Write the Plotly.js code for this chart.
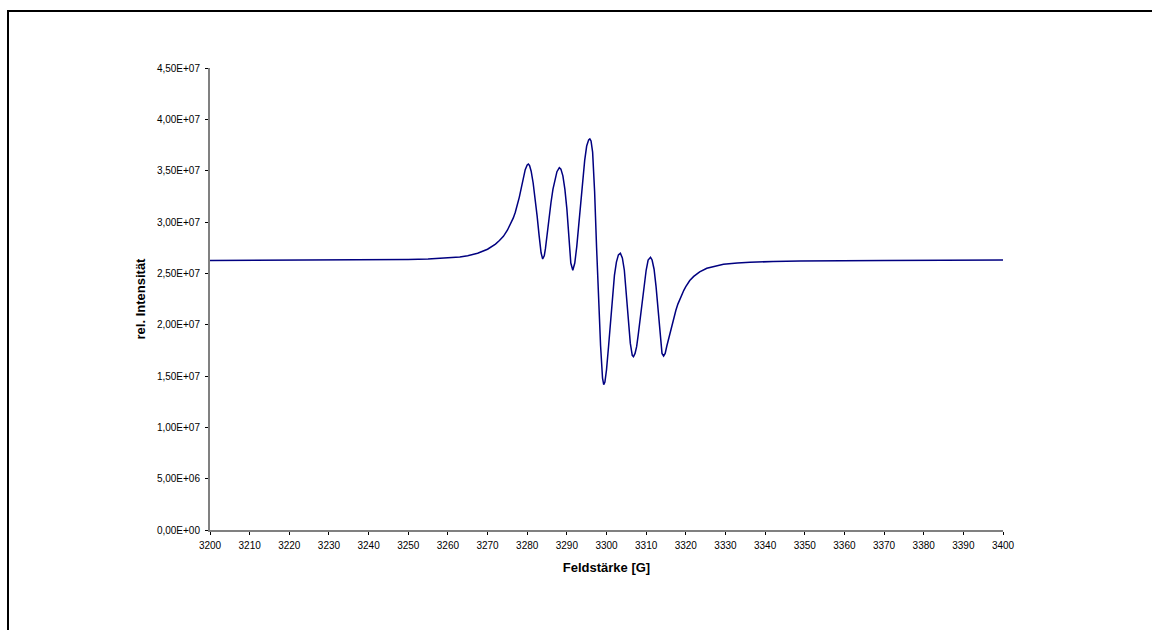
<!DOCTYPE html>
<html>
<head>
<meta charset="utf-8">
<script src="https://cdn.plot.ly/plotly-3.0.1.min.js"></script>
<style>
  html, body { margin: 0; padding: 0; background: #ffffff; width: 1152px; height: 630px; overflow: hidden; }
  #frame { position: absolute; left: 7px; top: 10px; width: 1300px; height: 800px; border: 2px solid #000; box-sizing: border-box; }
  #chart { position: absolute; left: 0; top: 0; width: 1152px; height: 630px; }
</style>
</head>
<body>
<div id="frame"></div>
<div id="chart"></div>
<script>
// Feldstärke [G]
const field = [
  3200.0, 3220.0, 3240.0, 3250.0, 3255.0, 3260.0, 3263.0, 3265.0, 3267.5, 3270.0, 3271.0,
  3272.0, 3273.0, 3274.0, 3275.0, 3276.0, 3276.5,
  3277.0, 3277.5, 3278.0, 3278.5, 3279.0, 3279.5, 3280.0, 3280.3, 3280.6, 3281.0,
  3281.5, 3282.0, 3282.5, 3283.0, 3283.5, 3283.9, 3284.3, 3284.6, 3285.0, 3285.5,
  3286.0, 3286.5, 3287.0, 3287.5, 3288.1, 3288.5, 3289.0, 3289.5, 3290.0, 3290.5,
  3291.0, 3291.5, 3292.0, 3292.5, 3293.0, 3293.5, 3294.0, 3294.5, 3295.0, 3295.5,
  3295.8, 3296.1, 3296.5, 3297.0, 3297.5, 3298.0, 3298.5, 3299.0, 3299.3, 3299.6,
  3300.0, 3300.5, 3301.0, 3301.5, 3302.0, 3302.5, 3303.0, 3303.5, 3304.0, 3304.5,
  3305.0, 3305.5, 3306.0, 3306.5, 3306.8, 3307.2, 3307.6, 3308.0, 3308.5, 3309.0,
  3309.5, 3310.0, 3310.5, 3311.1, 3311.5, 3312.0, 3312.5, 3313.0, 3313.5, 3314.0,
  3314.4, 3314.8, 3315.2, 3315.6, 3316.0, 3316.5, 3317.0, 3317.5, 3318.0, 3318.5,
  3319.0, 3319.5, 3320.0, 3320.5, 3321.0, 3322.0, 3323.5, 3325.3, 3327.5, 3329.5,
  3333.0, 3336.2, 3342.0, 3348.8, 3370.0, 3400.0
];
// rel. Intensität
const intensity = [
  2.625e7, 2.627e7, 2.630e7, 2.635e7, 2.640e7, 2.648e7, 2.660e7, 2.672e7, 2.695e7, 2.735e7, 2.760e7,
  2.785e7, 2.820e7, 2.860e7, 2.920e7, 2.995e7, 3.040e7,
  3.095e7, 3.160e7, 3.240e7, 3.330e7, 3.430e7, 3.510e7, 3.555e7, 3.565e7, 3.550e7, 3.495e7,
  3.380e7, 3.240e7, 3.060e7, 2.870e7, 2.700e7, 2.640e7, 2.670e7, 2.740e7, 2.880e7, 3.040e7,
  3.190e7, 3.320e7, 3.420e7, 3.490e7, 3.530e7, 3.515e7, 3.450e7, 3.320e7, 3.130e7, 2.830e7,
  2.600e7, 2.530e7, 2.600e7, 2.760e7, 2.990e7, 3.210e7, 3.420e7, 3.600e7, 3.740e7, 3.800e7,
  3.810e7, 3.790e7, 3.680e7, 3.300e7, 2.750e7, 2.220e7, 1.800e7, 1.480e7, 1.415e7, 1.440e7,
  1.560e7, 1.780e7, 2.030e7, 2.280e7, 2.480e7, 2.610e7, 2.680e7, 2.695e7, 2.650e7, 2.530e7,
  2.320e7, 2.050e7, 1.820e7, 1.700e7, 1.688e7, 1.720e7, 1.786e7, 1.900e7, 2.060e7, 2.220e7,
  2.380e7, 2.530e7, 2.630e7, 2.656e7, 2.630e7, 2.540e7, 2.370e7, 2.130e7, 1.870e7, 1.720e7,
  1.695e7, 1.720e7, 1.790e7, 1.851e7, 1.920e7, 2.000e7, 2.070e7, 2.140e7, 2.200e7, 2.250e7,
  2.295e7, 2.335e7, 2.370e7, 2.400e7, 2.430e7, 2.470e7, 2.515e7, 2.549e7, 2.572e7, 2.588e7,
  2.600e7, 2.608e7, 2.615e7, 2.620e7, 2.625e7, 2.630e7
];
const xTickVals = [3200,3210,3220,3230,3240,3250,3260,3270,3280,3290,3300,3310,3320,3330,3340,3350,3360,3370,3380,3390,3400];
const xTickText = xTickVals.map(String);
const yTickVals = [0, 5e6, 1e7, 1.5e7, 2e7, 2.5e7, 3e7, 3.5e7, 4e7, 4.5e7];
const yTickText = ["0,00E+00","5,00E+06","1,00E+07","1,50E+07","2,00E+07","2,50E+07","3,00E+07","3,50E+07","4,00E+07","4,50E+07"];

const trace = {
  x: field, y: intensity, type: 'scatter', mode: 'lines',
  line: { color: '#000080', width: 1.5, shape: 'linear' },
  hoverinfo: 'skip'
};

const layout = {
  width: 1152, height: 630,
  paper_bgcolor: 'rgba(0,0,0,0)', plot_bgcolor: 'rgba(0,0,0,0)',
  margin: { l: 210, r: 149, t: 68, b: 100 },
  showlegend: false,
  font: { family: 'Arial, "Liberation Sans", sans-serif', color: '#000', size: 10 },
  xaxis: {
    range: [3200, 3400], tickmode: 'array', tickvals: xTickVals, ticktext: xTickText,
    showgrid: false, zeroline: false, showline: true, linecolor: '#808080', linewidth: 2,
    ticks: 'outside', ticklen: 3, tickcolor: '#000', tickwidth: 1, ticklabelstandoff: 2,
    tickfont: { size: 10, color: '#000' },
    title: { text: 'Feldstärke [G]', font: { size: 13, color: '#000', weight: 'bold' }, standoff: 13 },
    automargin: false
  },
  yaxis: {
    range: [0, 4.5e7], tickmode: 'array', tickvals: yTickVals, ticktext: yTickText,
    showgrid: false, zeroline: false, showline: true, linecolor: '#808080', linewidth: 2,
    ticks: 'outside', ticklen: 3, tickcolor: '#000', tickwidth: 1, ticklabelstandoff: 3,
    tickfont: { size: 10, color: '#000' },
    title: { text: 'rel. Intensität', font: { size: 13, color: '#000', weight: 'bold' }, standoff: 8 },
    automargin: false
  }
};

Plotly.newPlot('chart', [trace], layout, { staticPlot: true, displayModeBar: false });
</script>
</body>
</html>
